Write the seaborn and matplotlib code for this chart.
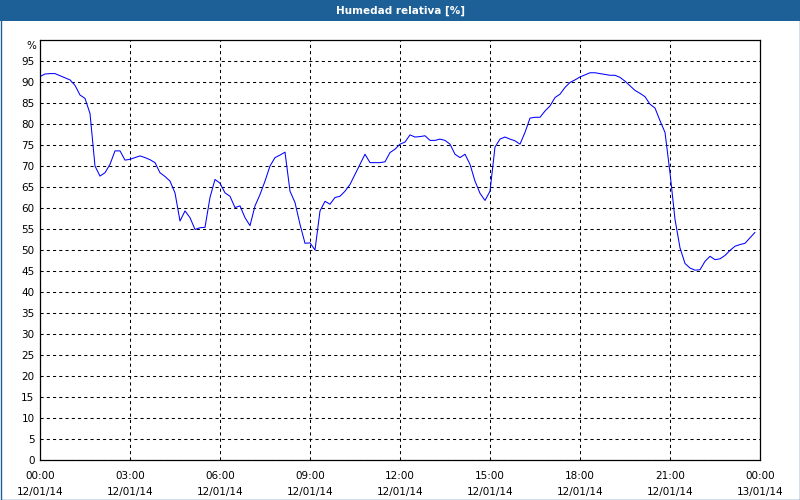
import matplotlib
matplotlib.use("Agg")
import matplotlib.pyplot as plt
import matplotlib.dates as mdates
from matplotlib.patches import Rectangle
import seaborn as sns
import pandas as pd
import numpy as np

title = "Humedad relativa [%]"
start = "2014-01-12 00:00"
end = "2014-01-13 00:00"
humidity = [
    91.3, 91.9, 92.0, 92.0, 91.5, 91.0, 90.5, 89.2, 86.9, 86.1,
    82.5, 70.0, 67.6, 68.4, 70.4, 73.6, 73.6, 71.4, 71.6, 72.0,
    72.4, 72.0, 71.5, 70.8, 68.4, 67.5, 66.4, 63.6, 56.9, 59.3,
    57.7, 54.9, 55.3, 55.4, 62.5, 66.8, 65.9, 63.6, 62.8, 60.1,
    60.5, 57.7, 55.8, 60.5, 63.2, 66.4, 70.0, 72.0, 72.6, 73.3,
    64.0, 61.3, 56.1, 51.6, 51.7, 50.0, 59.3, 61.6, 60.9, 62.5,
    62.8, 64.0, 65.6, 68.0, 70.4, 72.8, 70.8, 70.8, 70.8, 71.0,
    73.2, 74.0, 75.2, 75.7, 77.4, 76.9, 77.0, 77.2, 76.1, 76.1,
    76.4, 76.1, 75.2, 72.8, 72.0, 72.8, 70.4, 66.4, 63.5, 61.8,
    64.0, 74.5, 76.4, 76.9, 76.4, 76.0, 75.2, 78.0, 81.4, 81.6,
    81.6, 83.1, 84.3, 86.3, 87.1, 88.7, 89.9, 90.5, 91.2, 91.7,
    92.2, 92.2, 92.0, 91.8, 91.6, 91.6, 91.1, 90.2, 89.1, 88.0,
    87.3, 86.5, 84.7, 83.8, 80.8, 78.0, 68.4, 57.3, 50.5, 46.8,
    45.7, 45.2, 45.3, 47.3, 48.5, 47.7, 47.9, 48.7, 49.9, 50.9,
    51.3, 51.6, 52.9, 54.2,
]
y_ticks = list(range(0, 100, 5))

times = pd.date_range(start, periods=len(humidity), freq="10min")
df = pd.DataFrame({"time": times, "hr": humidity})

sns.set_theme(style="white")
plt.rcParams["font.family"] = ["DejaVu Sans"]

fig = plt.figure(figsize=(8, 5), dpi=100)
fig.patch.set_facecolor("white")

# window title bar and frame
blue = "#1d5f97"
fig.patches.append(Rectangle((0, 1 - 21 / 500), 1, 21 / 500, transform=fig.transFigure,
                             facecolor=blue, edgecolor="none", zorder=0))
fig.patches.append(Rectangle((0.5 / 800, 0.5 / 500), 1 - 1 / 800, 1 - 1 / 500, transform=fig.transFigure,
                             facecolor="none", edgecolor=blue, lw=1.0, zorder=1))
fig.text(0.5, 1 - 10.5 / 500, title, color="white", fontsize=7.5, fontweight="bold",
         ha="center", va="center")

ax = fig.add_axes([40 / 800, 40 / 500, 720 / 800, 420 / 500])
sns.lineplot(data=df, x="time", y="hr", ax=ax, color="#0000ff", lw=0.75)

ax.set_xlim(pd.Timestamp(start), pd.Timestamp(end))
ax.set_ylim(0, 100)
ax.set_xlabel("")
ax.set_ylabel("")
ax.set_yticks(y_ticks)
ax.set_yticklabels([str(t) for t in y_ticks])
ax.xaxis.set_major_locator(mdates.HourLocator(byhour=range(0, 24, 3)))
ax.xaxis.set_minor_locator(mdates.HourLocator())
ax.xaxis.set_major_formatter(mdates.DateFormatter("%H:%M\n%d/%m/%y"))
ax.tick_params(axis="both", which="both", direction="out", colors="black",
               labelsize=7.5, width=0.8)
ax.tick_params(axis="x", which="minor", length=2)
ax.tick_params(axis="x", which="major", length=2, pad=6)
ax.tick_params(axis="y", length=0, pad=4)
for lbl in ax.get_xticklabels():
    lbl.set_linespacing(1.75)

ax.grid(True, which="major", color="black", linestyle=(0, (3, 3)), linewidth=0.75)
for s in ax.spines.values():
    s.set_visible(True)
    s.set_color("black")
    s.set_linewidth(0.9)
ax.set_facecolor("white")

ax.text(-0.005, 1.0 - 6 / 420, "%", transform=ax.transAxes, ha="right", va="center",
        fontsize=7.5, color="black")

fig.savefig("out.png", dpi=100, facecolor="white")
